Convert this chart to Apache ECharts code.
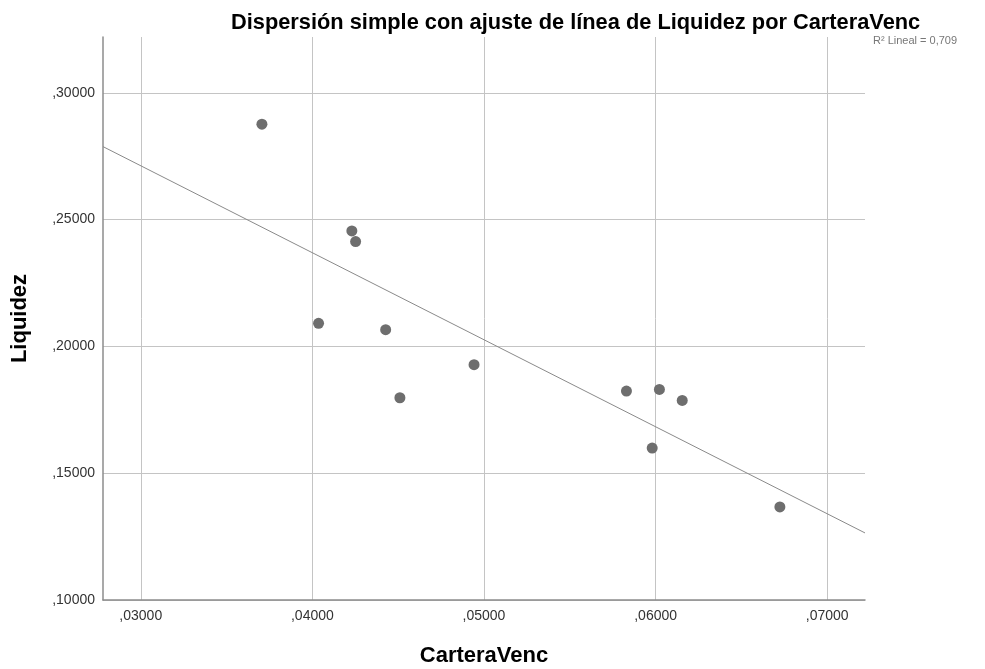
<!DOCTYPE html>
<html>
<head>
<meta charset="utf-8">
<script src="https://cdn.jsdelivr.net/npm/echarts@6/dist/echarts.min.js"></script>
<style>
html,body{margin:0;padding:0;background:#fff;}
#chart{width:985px;height:669px;}
</style>
</head>
<body>
<div id="chart"></div>
<script>
// Data
const carteraVenc = [0.03706, 0.04230, 0.04252, 0.04036, 0.04427, 0.04942, 0.04510, 0.05830, 0.06022, 0.06155, 0.05980, 0.06724];
const liquidez    = [0.28761, 0.24554, 0.24132, 0.20908, 0.20659, 0.19278, 0.17975, 0.18240, 0.18303, 0.17869, 0.15990, 0.13670];
const xTicks = [0.03, 0.04, 0.05, 0.06, 0.07];
const yTicks = [0.10, 0.15, 0.20, 0.25, 0.30];
const xRange = [0.0278, 0.0722];
const yRange = [0.10, 0.322];
const titleText = 'Dispersión simple con ajuste de línea de Liquidez por CarteraVenc';
const xName = 'CarteraVenc';
const yName = 'Liquidez';
const r2Text = 'R² Lineal = 0,709';

// OLS fit
const n = carteraVenc.length;
const mx = carteraVenc.reduce((a,b)=>a+b,0)/n;
const my = liquidez.reduce((a,b)=>a+b,0)/n;
let sxy = 0, sxx = 0;
for (let i=0;i<n;i++){ sxy += (carteraVenc[i]-mx)*(liquidez[i]-my); sxx += (carteraVenc[i]-mx)**2; }
const slope = sxy/sxx, intercept = my - slope*mx;
const fitLine = xRange.map(x => [x, intercept + slope*x]);

const fmt = v => ',' + v.toFixed(5).split('.')[1];
const FONT = 'Liberation Sans, Arial, sans-serif';

const chart = echarts.init(document.getElementById('chart'), null, {renderer:'canvas'});
chart.setOption({
  animation:false,
  backgroundColor:'#fff',
  title:{
    text:titleText, left:226, top:7,
    textStyle:{fontFamily:FONT, fontSize:21.8, fontWeight:'bold', color:'#000'}
  },
  graphic:[{
    type:'text', left:873, top:35,
    style:{text:r2Text, fontFamily:FONT, fontSize:11, fill:'#777'}
  }],
  grid:{left:103, right:120, top:37, bottom:69, containLabel:false, outerBoundsMode:'none'},
  xAxis:{
    type:'value', min:xRange[0], max:xRange[1],
    name:xName, nameLocation:'middle', nameGap:45,
    nameTextStyle:{fontFamily:FONT, fontSize:22, fontWeight:'bold', color:'#000'},
    axisLine:{show:true, onZero:false, lineStyle:{color:'#8c8c8c', width:1.5}},
    axisTick:{show:false, customValues:xTicks},
    axisLabel:{customValues:xTicks, formatter:fmt, fontFamily:FONT, fontSize:14, color:'#333', margin:9},
    splitLine:{show:true, lineStyle:{color:'#c4c4c4', width:1}}
  },
  yAxis:{
    type:'value', min:yRange[0], max:yRange[1],
    name:yName, nameLocation:'middle', nameGap:72, nameRotate:90,
    nameTextStyle:{fontFamily:FONT, fontSize:22, fontWeight:'bold', color:'#000'},
    axisLine:{show:true, onZero:false, lineStyle:{color:'#8c8c8c', width:1.5}},
    axisTick:{show:false, customValues:yTicks},
    axisLabel:{customValues:yTicks, formatter:fmt, fontFamily:FONT, fontSize:14, color:'#333', margin:8},
    splitLine:{show:true, lineStyle:{color:'#c4c4c4', width:1}}
  },
  series:[
    {
      type:'line', data:fitLine, symbol:'none', silent:true,
      lineStyle:{color:'#8a8a8a', width:1}, z:2
    },
    {
      type:'scatter', data:carteraVenc.map((x,i)=>[x, liquidez[i]]),
      symbol:'circle', symbolSize:11,
      itemStyle:{color:'#6e6e6e', opacity:1}, z:3
    }
  ]
});
</script>
</body>
</html>
